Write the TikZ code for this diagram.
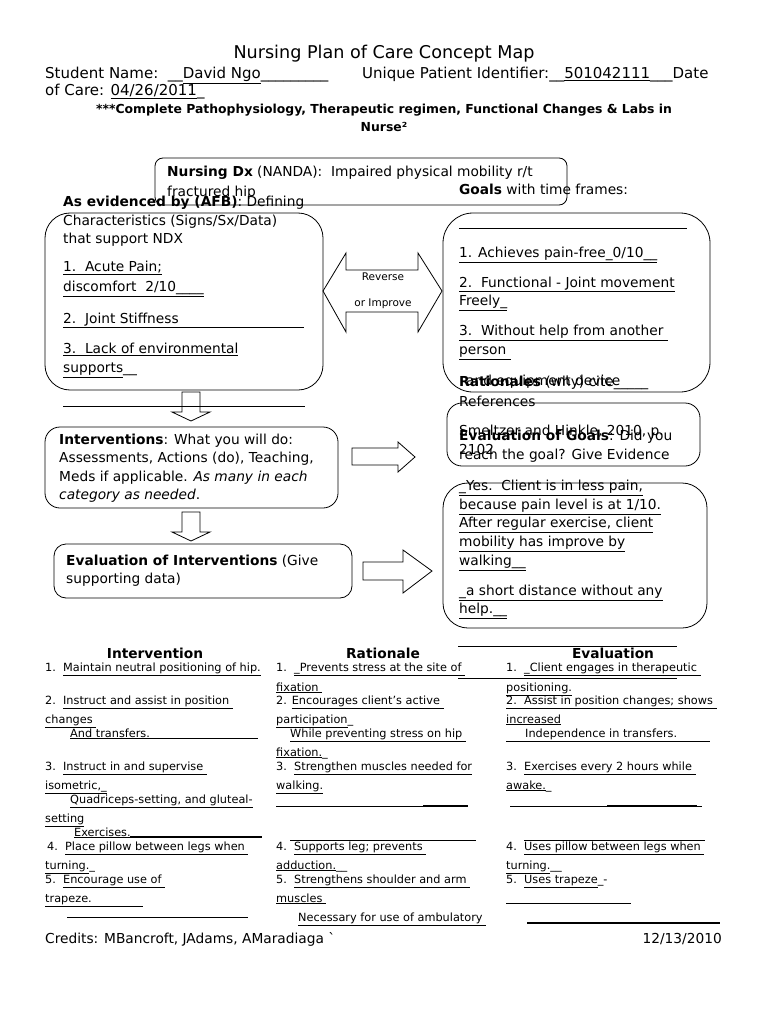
\documentclass[tikz,border=0pt]{standalone}
\usepackage{fontspec}
\setmainfont{DejaVu Sans}
\newfontfamily\rawfont{DejaVu Sans}
\newcommand{\ulin}[1]{\underline{#1}}
\newcommand{\ulbox}[2]{\underline{\makebox[#1][l]{#2}}}
\tikzset{
  txt/.style={anchor=west, inner sep=0pt, text height=10pt, text depth=3pt, font=\fontsize{13.75}{16}\selectfont},
  hdr/.style={txt, font=\fontsize{15}{18}\selectfont},
  sml/.style={anchor=west, inner sep=0pt, text height=8.5pt, text depth=2.5pt, font=\fontsize{11.3}{14}\selectfont},
  box/.style={line width=0.8pt},
  blk/.style={line width=0.8pt, line join=miter},
  rule/.style={line width=0.6pt}
}
\begin{document}
\begin{tikzpicture}[x=1pt,y=-1pt]
  \useasboundingbox[fill=white] (0,0) rectangle (768,1024);

  \node[anchor=center, font=\fontsize{17.6}{20}\selectfont] (title) at (384,54) {Nursing Plan of Care Concept Map};
  \node[hdr] (stud) at (45,75) {Student Name:\ \ \_\_\ulin{David Ngo}\_\_\_\_\_\_\_\_\_};
  \node[hdr] (upi) at (362,75) {Unique Patient Identifier:\_\_\ulin{501042111}\_\_\_Date};
  \node[hdr] (doc) at (45,92) {of Care: \ulin{04/26/2011}\_};
  \node[anchor=center, font=\bfseries\fontsize{12.4}{14}\selectfont] (note1) at (384,110) {***Complete Pathophysiology, Therapeutic regimen, Functional Changes \& Labs in};
  \node[anchor=center, font=\bfseries\fontsize{12.4}{14}\selectfont] (note2) at (384,127) {Nurse²};

  \draw[box, rounded corners=8] (155,158) rectangle (567,205);
  \node[txt] (dx1) at (167,173) {\textbf{Nursing Dx} (NANDA):\ \ Impaired physical mobility r/t};
  \node[txt] (dx2) at (167,193) {fractured hip};
  \node[txt] (goalhd) at (459,191) {\textbf{Goals} with time frames:};
  \node[txt] (afbhd) at (63,203) {\textbf{As evidenced by (AFB)}: Defining};

  \draw[box, rounded corners=25] (45,213) rectangle (323,390);
  \node[txt] (afb1) at (63,222) {Characteristics (Signs/Sx/Data)};
  \node[txt] (afb2) at (63,240) {that support NDX};
  \node[txt] (afb3) at (63,268) {\ulin{1.\ \ Acute Pain;}};
  \node[txt] (afb4) at (63,288) {\ulin{discomfort\ \ 2/10\_\_\_\_}};
  \node[txt] (afb5) at (63,320) {\ulbox{241pt}{2.\ \ Joint Stiffness}};
  \node[txt] (afb6) at (63,350) {\ulin{3.\ \ Lack of environmental}};
  \node[txt] (afb7) at (63,369) {\ulin{supports}\_\_};
  \draw[rule] (63,406) -- (305,406);

  \foreach \t in {392,512}
    \draw[blk] (182,\t) -- (200,\t) -- (200,\t+20) -- (210,\t+20) -- (191,\t+29) -- (172,\t+20) -- (182,\t+20) -- cycle;

  \draw[blk] (323,291) -- (346,253) -- (346,270) -- (418,270) -- (418,253) -- (442,291)
    -- (418,332) -- (418,312) -- (346,312) -- (346,332) -- cycle;
  \node[anchor=center, font=\fontsize{10.5}{12}\selectfont] (rev) at (383,277) {Reverse};
  \node[anchor=center, font=\fontsize{10.5}{12}\selectfont] (imp) at (383,304) {or Improve};

  \draw[box, rounded corners=30] (443,213) rectangle (710,392);
  \draw[rule] (459,228) -- (687,228);
  \node[txt] (goal1) at (459,254) {\ulin{1. Achieves pain-free\_0/10\_\_}};
  \node[txt] (goal2) at (459,284) {\ulin{2.\ \ Functional - Joint movement}};
  \node[txt] (goal3) at (459,302) {\ulin{Freely\_}};
  \node[txt] (goal4) at (459,332) {\ulin{3.\ \ Without help from another }};
  \node[txt] (goal5) at (459,351) {\ulin{person }};
  \node[txt] (goal6) at (466,382) {and equipment device};
  \node[txt] (rathd) at (459,383) {\textbf{Rationales} (why) cite\_\_\_\_\_};
  \node[txt] (refs) at (459,403) {References};

  \draw[box, rounded corners=15] (447,403) rectangle (700,466);
  \node[txt] (ref1) at (459,432) {Smeltzer and Hinkle, 2010, p.};
  \node[txt] (ref2) at (459,451) {2102};
  \node[txt] (evg1) at (459,437) {\textbf{Evaluation of Goals}: Did you};
  \node[txt] (evg2) at (459,456) {reach the goal? Give Evidence};

  \draw[box, rounded corners=25] (443,483) rectangle (707,628);
  \node[txt] (evid1) at (459,487) {\ulin{\_Yes.\ \ Client is in less pain,}};
  \node[txt] (evid2) at (459,506) {\ulin{because pain level is at 1/10.}};
  \node[txt] (evid3) at (459,524) {\ulin{After regular exercise, client}};
  \node[txt] (evid4) at (459,543) {\ulin{mobility has improve by}};
  \node[txt] (evid5) at (459,562) {\ulin{walking\_\_}};
  \node[txt] (evid6) at (459,592) {\ulin{\_a short distance without any}};
  \node[txt] (evid7) at (459,610) {\ulin{help.\_\_}};
  \draw[rule] (458,646) -- (677,646);
  \draw[rule] (458,678) -- (677,678);

  \draw[box, rounded corners=15] (45,427) rectangle (338,508);
  \node[txt] (int1) at (59,441) {\textbf{Interventions}: What you will do:};
  \node[txt] (int2) at (59,459) {Assessments, Actions (do), Teaching,};
  \node[txt] (int3) at (59,478) {Meds if applicable. \textit{As many in each}};
  \node[txt] (int4) at (59,496) {\textit{category as needed}.};
  \draw[blk] (352,448) -- (398,448) -- (398,442) -- (415,457) -- (398,472) -- (398,465) -- (352,465) -- cycle;

  \draw[box, rounded corners=12] (54,544) rectangle (352,598);
  \node[txt] (evi1) at (66,562) {\textbf{Evaluation of Interventions} (Give};
  \node[txt] (evi2) at (66,580) {supporting data)};
  \draw[blk] (363,562) -- (403,562) -- (403,550) -- (432,571) -- (403,593) -- (403,580) -- (363,580) -- cycle;

  \node[anchor=center, font=\bfseries\fontsize{13.75}{16}\selectfont] (colint) at (155,653) {Intervention};
  \node[anchor=center, font=\bfseries\fontsize{13.75}{16}\selectfont] (colrat) at (383,653) {Rationale};
  \node[anchor=center, font=\bfseries\fontsize{13.75}{16}\selectfont] (coleva) at (613,653) {Evaluation};

  \node[sml] (i1a) at (45,668) {1.\ \ \ulin{Maintain neutral positioning of hip.}};
  \node[sml] (i2a) at (45,701) {2.\ \ \ulin{Instruct and assist in position }};
  \node[sml] (i2b) at (45,720) {\ulin{changes }};
  \node[sml] (i2c) at (70,734) {\ulbox{188pt}{And transfers.}};
  \node[sml] (i3a) at (45,767) {3.\ \ \ulin{Instruct in and supervise }};
  \node[sml] (i3b) at (45,786) {\ulin{isometric,\_}};
  \node[sml] (i3c) at (70,800) {\ulin{Quadriceps-setting, and gluteal-}};
  \node[sml] (i3d) at (45,819) {\ulin{setting}};
  \node[sml] (i3e) at (74,833) {\ulbox{188pt}{Exercises.}};
  \draw[line width=1.2pt] (130,837) -- (262,837);
  \node[sml] (i4a) at (47,847) {4.\ \ \ulin{Place pillow between legs when }};
  \node[sml] (i4b) at (45,866) {\ulin{turning.}\_};
  \node[sml] (i5a) at (45,880) {5.\ \ \ulin{Encourage use of }};
  \node[sml] (i5b) at (45,899) {\ulbox{98pt}{trapeze.}};
  \draw[rule] (67,917) -- (248,917);

  \node[sml] (r1a) at (276,668) {1.\ \ \ulin{\_Prevents stress at the site of }};
  \node[sml] (r1b) at (276,688) {\ulin{fixation }};
  \node[sml] (r2a) at (276,701) {2. \ulin{Encourages client's active }};
  \node[sml] (r2b) at (276,720) {\ulin{participation}\_};
  \node[sml] (r2c) at (290,734) {\ulin{While preventing stress on hip }};
  \node[sml] (r2d) at (276,753) {\ulin{fixation.}\_};
  \node[sml] (r3a) at (276,767) {3.\ \ \ulin{Strengthen muscles needed for}};
  \node[sml] (r3b) at (276,786) {\ulin{walking.}};
  \draw[rule] (276,806) -- (468,806);
  \draw[line width=1.2pt] (423,806) -- (468,806);
  \draw[rule] (290,840) -- (476,840);
  \node[sml] (r4a) at (276,847) {4.\ \ \ulin{Supports leg; prevents }};
  \node[sml] (r4b) at (276,866) {\ulin{adduction.}\_\_};
  \node[sml] (r5a) at (276,880) {5.\ \ \ulin{Strengthens shoulder and arm }};
  \node[sml] (r5b) at (276,899) {\ulin{muscles }};
  \node[sml] (r5c) at (298,918) {\ulin{Necessary for use of ambulatory }};

  \node[sml] (e1a) at (506,668) {1.\ \ \ulin{\_Client engages in therapeutic }};
  \node[sml] (e1b) at (506,688) {\ulin{positioning.}};
  \node[sml] (e2a) at (506,701) {\ulin{2.\ \ Assist in position changes; shows }};
  \node[sml] (e2b) at (506,720) {\ulin{increased}};
  \node[sml] (e2c) at (506,734) {\ulbox{204pt}{\hspace{19pt}Independence in transfers.}};
  \node[sml] (e3a) at (506,767) {3.\ \ \ulin{Exercises every 2 hours while }};
  \node[sml] (e3b) at (506,786) {\ulin{awake.}\_};
  \draw[rule] (510,806) -- (702,806);
  \draw[line width=1.2pt] (607,806) -- (697,806);
  \draw[rule] (524,840) -- (705,840);
  \node[sml] (e4a) at (506,847) {4.\ \ \ulin{Uses pillow between legs when }};
  \node[sml] (e4b) at (506,866) {\ulin{turning.}\_\_};
  \node[sml] (e5a) at (506,880) {5.\ \ \ulin{Uses trapeze}\_-};
  \draw[rule] (506,903) -- (631,903);
  \draw[line width=1.4pt] (527,923) -- (720,923);

  \node[txt] (cred) at (45,940) {Credits: MBancroft, JAdams, AMaradiaga {\rawfont `}};
  \node[txt, anchor=east] (date) at (722,940) {12/13/2010};
\end{tikzpicture}
\end{document}
